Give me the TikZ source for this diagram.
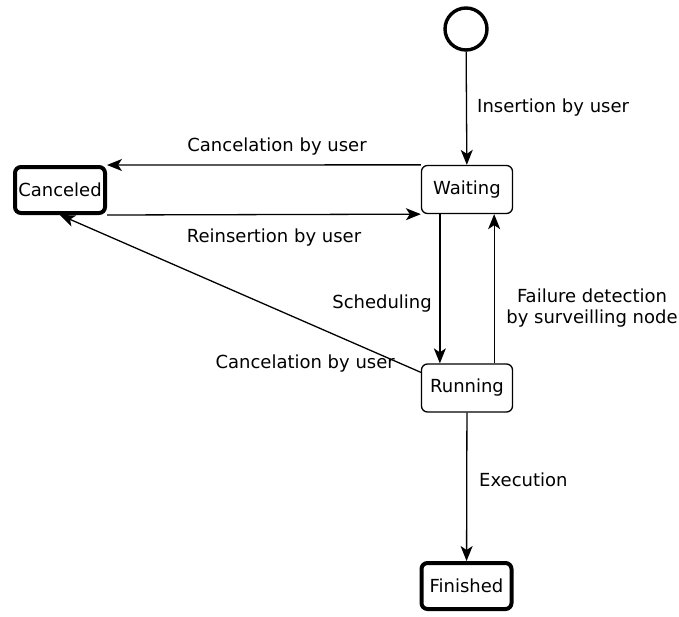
\documentclass[tikz,border=0pt]{standalone}
\usepackage{fontspec}
\setmainfont{DejaVu Sans}
\usetikzlibrary{arrows.meta}

\begin{document}
\begin{tikzpicture}[x=1pt,y=-1pt,
    every node/.style={font=\fontsize{18}{21}\selectfont},
    state/.style={draw,rounded corners=6pt,inner sep=0pt,line width=1.3pt,
      minimum width=91pt,minimum height=48pt},
    final/.style={state,line width=4pt,minimum width=90pt,minimum height=46pt},
    lbl/.style={inner sep=0pt},
    edge/.style={-{Stealth[length=15pt,width=12pt,inset=4pt]},line width=1.3pt}]
  \useasboundingbox (0,0) rectangle (679,616);
  % states
  \node[circle,draw,line width=3.4pt,minimum size=42pt,inner sep=0pt] (start) at (466,29) {};
  \node[state] (waiting) at (467,189.5) {Waiting};
  \node[state] (running) at (467,388) {Running};
  \node[final] (canceled) at (60,190) {Canceled};
  \node[final] (finished) at (466.5,586) {Finished};
  % transitions
  \draw[edge] (start) -- (waiting);
  \draw[edge] (waiting.north west) -- (canceled.north east);
  \draw[edge] (canceled.south east) -- (waiting.south west);
  \draw[edge] ([xshift=19pt]waiting.south west) -- ([xshift=19pt]running.north west);
  \draw[edge] ([xshift=-19pt]running.north east) -- ([xshift=-19pt]waiting.south east);
  \draw[edge] ([yshift=-9pt]running.north west) -- (canceled.south);
  \draw[edge] (running) -- (finished);
  % labels
  \node[lbl,anchor=west] (lInsert) at (477,108) {Insertion by user};
  \node[lbl] (lCancelA) at (277,147) {Cancelation by user};
  \node[lbl] (lReinsert) at (274,238) {Reinsertion by user};
  \node[lbl,anchor=east] (lSched) at (432,304) {Scheduling};
  \node[lbl,align=center] (lFail) at (592,308) {Failure detection\\by surveilling node};
  \node[lbl,anchor=east] (lCancelB) at (395,364) {Cancelation by user};
  \node[lbl,anchor=west] (lExec) at (479,480) {Execution};
\end{tikzpicture}
\end{document}
